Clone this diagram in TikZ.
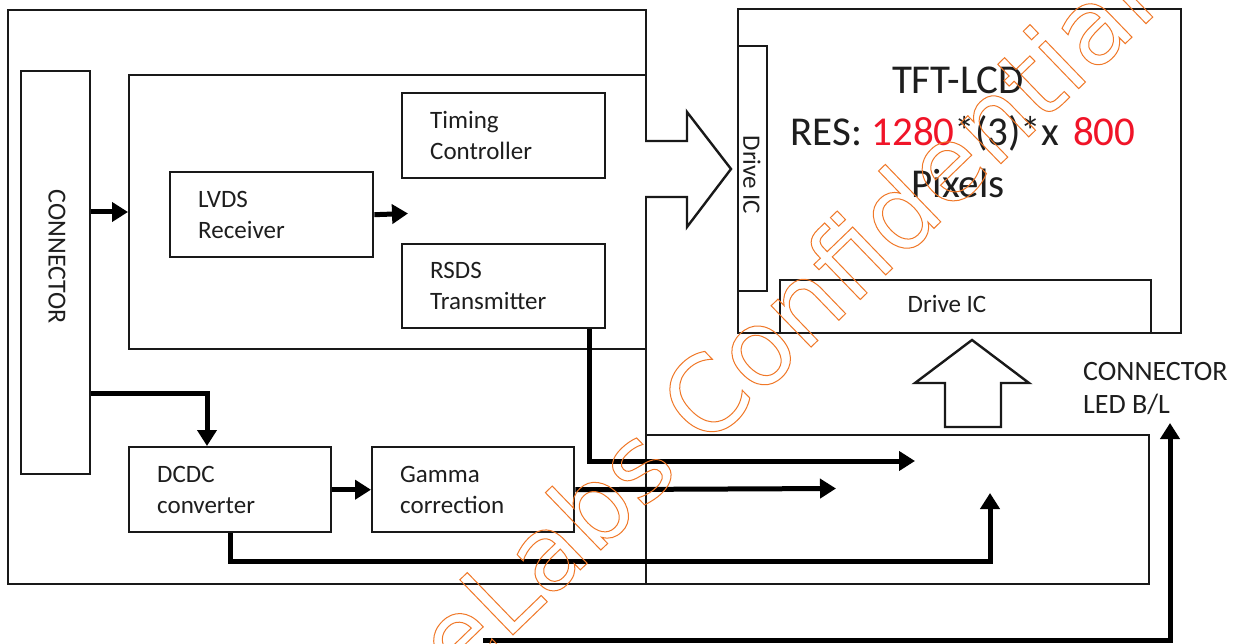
\documentclass[tikz,border=0pt]{standalone}
\usepackage{fontspec}
\setmainfont{Carlito}
\newfontfamily\wmfont{DejaVu Sans}
\usetikzlibrary{arrows.meta,calc}
\definecolor{txt}{RGB}{30,30,30}
\definecolor{wm}{RGB}{240,120,40}
\definecolor{resred}{RGB}{240,20,40}
\tikzset{
  outerbox/.style={draw=black!90, line width=2pt, inner sep=0pt, anchor=north west},
  blk/.style={draw=black!90, line width=2.4pt, align=left, inner xsep=28pt, inner ysep=0pt,
    font=\fontsize{25}{31}\selectfont, text=txt, anchor=north west},
  lbl/.style={text=txt, inner sep=0pt},
  sig/.style={line width=5pt, -{Triangle[length=16pt,width=19pt]}},
  hollow/.style={draw=black!90, line width=2.4pt, fill=white, line join=miter},
}
\begin{document}
\begin{tikzpicture}[x=1pt,y=1pt]
\useasboundingbox[fill=white] (0,0) rectangle (1238,643);
% frames
\node[outerbox, minimum width=638pt, minimum height=574pt] (outer) at (7,634) {};
\node[outerbox, minimum width=517pt, minimum height=274pt] (inner) at (128,569) {};
\node[outerbox, line width=2.4pt, minimum width=69pt, minimum height=403pt] (conn) at (20,573) {};
\node[outerbox, line width=2.4pt, minimum width=443pt, minimum height=324pt] (lcd) at (737,635) {};
\node[outerbox, line width=2.4pt, minimum width=29pt, minimum height=245pt] (drivev) at (737,598) {};
\node[outerbox, line width=2.4pt, minimum width=371pt, minimum height=53pt] (driveh) at (779,364) {};
\node[outerbox, minimum width=503pt, minimum height=149pt] (lower) at (645,209) {};
% blocks
\node[blk, minimum width=203pt, minimum height=85pt, text width=147pt] (timing) at (401,551) {Timing\\Controller};
\node[blk, minimum width=203pt, minimum height=85pt, text width=147pt] (lvds) at (169,472) {LVDS\\Receiver};
\node[blk, minimum width=203pt, minimum height=84pt, text width=147pt] (rsds) at (401,400) {RSDS\\Transmitter};
\node[blk, minimum width=202pt, minimum height=85pt, text width=146pt] (dcdc) at (128,197) {DCDC\\converter};
\node[blk, minimum width=202pt, minimum height=85pt, text width=146pt] (gamma) at (371,197) {Gamma\\correction};
% labels
\node[lbl, rotate=-90, font=\fontsize{26}{26}\selectfont] (conntxt) at (57,386) {CONNECTOR};
\node[lbl, rotate=-90, font=\fontsize{25}{25}\selectfont] (drivevtxt) at (752,468) {Drive IC};
\node[lbl, font=\fontsize{25}{25}\selectfont] (drivehtxt) at (947,339) {Drive IC};
\node[lbl, anchor=base, font=\fontsize{41}{41}\selectfont] (lcdt1) at (958,549) {TFT-LCD};
\node[lbl, anchor=base, font=\fontsize{41}{41}\selectfont] (lcdt2) at (963,497) {RES: \textcolor{resred}{1280}*(3)*x\hspace{0.35em}\textcolor{resred}{800}};
\node[lbl, anchor=base, font=\fontsize{41}{41}\selectfont] (lcdt3) at (958,445) {Pixels};
\node[lbl, anchor=base west, font=\fontsize{28}{28}\selectfont] (bl1) at (1083,263) {CONNECTOR};
\node[lbl, anchor=base west, font=\fontsize{28}{28}\selectfont] (bl2) at (1083,230) {LED B/L};
% hollow arrows
\draw[hollow] (645,502) -- (687,502) -- (687,531) -- (731,474) -- (687,416) -- (687,446) -- (645,446);
\draw[hollow] (945,216) -- (1001,216) -- (1001,260) -- (1029,260) -- (972,303) -- (915,260) -- (945,260) -- cycle;
% free ends
\coordinate (lvdsout) at (408,429.5);
\coordinate (rsdsout) at (915,182);
\coordinate (gamout) at (836,154.5);
\coordinate (dcdcturn) at (990,82);
\coordinate (dcdctip) at (990,150);
\coordinate (blstart) at (483,3);
\coordinate (blturn) at (1170,3);
\coordinate (bltip) at (1170,220);
% signal arrows
\draw[sig] (conn.east |- 0,431) -- (inner.west |- 0,431);
\draw[sig] (lvds.east) -- (lvdsout);
\draw[sig] (conn.east |- 0,250) -| ($(dcdc.north west)+(79,0)$);
\draw[sig] (dcdc.east) -- (gamma.west);
\draw[sig] ($(rsds.south west)+(188,0)$) |- (rsdsout);
\draw[sig] (gamma.east) -- (gamout);
\draw[sig] ($(dcdc.south west)+(102,0)$) |- (dcdcturn) -- (dcdctip);
\draw[sig] (blstart) -- (blturn) -- (bltip);
% watermark
\begin{scope}
\clip (0,0) rectangle (1238,643);
\node[anchor=base west, inner sep=0pt, rotate=44, text=wm, font=\wmfont\fontsize{105}{105}\selectfont] (wmark) at (459,-44) {\special{pdf:literal direct 1 Tr 1 w}eLabs Confidential\special{pdf:literal direct 0 Tr}};
\end{scope}
\end{tikzpicture}
\end{document}
